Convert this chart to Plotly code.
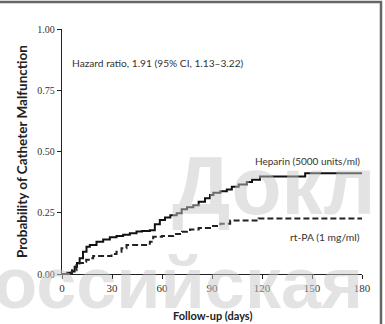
import plotly.graph_objects as go

# Kaplan-Meier style step data (days, cumulative probability)
heparin_days = [0, 3, 6, 7.6, 9, 10.6, 12.6, 14.7, 16.7, 20.7, 24.7, 28.7, 32.7, 36.7, 40.7, 44.7, 48,
                52.7, 55.7, 58.7, 61.8, 65, 68.8, 71.8, 75, 78.8, 82, 85.8, 88.8, 90.8, 95, 98.9,
                101.9, 106, 110.9, 114, 118.8, 145.9, 180]
heparin_p = [0, 0.005, 0.01, 0.03, 0.045, 0.064, 0.091, 0.111, 0.118, 0.132, 0.141, 0.150, 0.155, 0.160,
             0.166, 0.173, 0.176, 0.179, 0.203, 0.220, 0.231, 0.240, 0.248, 0.264, 0.272, 0.281, 0.295,
             0.309, 0.322, 0.332, 0.338, 0.345, 0.356, 0.365, 0.376, 0.385, 0.398, 0.411, 0.411]

rtpa_days = [0, 4, 6, 8.7, 10.5, 12.6, 14.5, 16.7, 18.7, 29.7, 32.7, 35.7, 38.7, 52.7, 54.7, 60, 66.7,
             72, 76.8, 82, 88.8, 95, 100.9, 118, 180]
rtpa_p = [0, 0.005, 0.015, 0.037, 0.045, 0.050, 0.058, 0.064, 0.073, 0.082, 0.091, 0.105, 0.118, 0.132,
          0.152, 0.155, 0.163, 0.172, 0.182, 0.188, 0.196, 0.205, 0.218, 0.227, 0.227]

x_ticks = [0, 30, 60, 90, 120, 150, 180]
y_ticks = [0.0, 0.25, 0.5, 0.75, 1.0]
y_tick_labels = ["0.00", "0.25", "0.50", "0.75", "1.00"]

label_font = "Lato, Open Sans, Arial"
tick_font = "Liberation Serif, Times New Roman, serif"
wm_font = "Liberation Sans, Arial"
wm_color = "rgba(200,200,200,0.5)"

fig = go.Figure()
fig.add_trace(go.Scatter(x=heparin_days, y=heparin_p, mode="lines", line_shape="hv",
                         line=dict(color="#111111", width=2), name="Heparin (5000 units/ml)",
                         showlegend=False))
fig.add_trace(go.Scatter(x=rtpa_days, y=rtpa_p, mode="lines", line_shape="hv",
                         line=dict(color="#222222", width=2, dash="6px,3px"), name="rt-PA (1 mg/ml)",
                         showlegend=False))

fig.update_layout(
    width=385, height=324,
    margin=dict(l=62, r=23, t=29, b=50, autoexpand=False),
    paper_bgcolor="white", plot_bgcolor="white",
    xaxis=dict(range=[0, 180], tickvals=x_ticks, showgrid=False, zeroline=False, automargin=False,
               showline=True, linecolor="#222", linewidth=1.3, ticks="outside", ticklen=4,
               tickcolor="#222", tickfont=dict(family=tick_font, size=11, color="#333")),
    yaxis=dict(range=[0, 1], tickvals=y_ticks, ticktext=y_tick_labels, showgrid=False,
               zeroline=False, showline=True, linecolor="#222", linewidth=1.3, ticks="outside",
               automargin=False,
               ticklen=4, tickcolor="#222", tickfont=dict(family=tick_font, size=10, color="#333")),
)

# axis titles
fig.add_annotation(x=0.5, y=(274 - 315) / 245, xref="paper", yref="paper", xanchor="center",
                   yanchor="middle", text="<b>Follow-up (days)</b>", showarrow=False,
                   font=dict(family=label_font, size=11, color="#222"))
fig.add_annotation(x=(22 - 62) / 300, y=(274 - 152) / 245, xref="paper", yref="paper",
                   xanchor="center", yanchor="middle", textangle=-90,
                   text="<b>Probability of Catheter Malfunction</b>", showarrow=False,
                   font=dict(family=label_font, size=13.5, color="#222"))

fig.add_annotation(x=5, y=0.861, xref="x", yref="y", xanchor="left", yanchor="middle",
                   text="Hazard ratio, 1.91 (95% CI, 1.13\u20133.22)", showarrow=False,
                   font=dict(family=label_font, size=10.2, color="#333"))
fig.add_annotation(x=180, y=0.461, xref="x", yref="y", xanchor="right", yanchor="middle",
                   text="Heparin (5000 units/ml)", showarrow=False,
                   font=dict(family=label_font, size=10, color="#333"))
fig.add_annotation(x=180, y=0.151, xref="x", yref="y", xanchor="right", yanchor="middle",
                   text="rt-PA (1 mg/ml)", showarrow=False,
                   font=dict(family=label_font, size=10.3, color="#333"))

# faint watermark of the source
fig.add_annotation(x=0.36, y=0.363, xref="paper", yref="paper", xanchor="left", yanchor="middle",
                   text="<b>Докл</b>", showarrow=False,
                   font=dict(family=wm_font, size=82, color=wm_color))
fig.add_annotation(x=(365 - 62) / 300, y=-0.037, xref="paper", yref="paper", xanchor="right",
                   yanchor="middle", text="<b>Российская</b>", showarrow=False,
                   font=dict(family=wm_font, size=72, color=wm_color))

# frame of the clipped figure (only top and right edges fall inside the picture)
fig.add_shape(type="rect", xref="paper", yref="paper", layer="above",
              x0=-0.4, x1=(381 - 62) / 300, y0=-0.4, y1=(274 - 2) / 245,
              line=dict(color="#666", width=2.5), fillcolor="rgba(0,0,0,0)")

fig.write_html("out.html")
